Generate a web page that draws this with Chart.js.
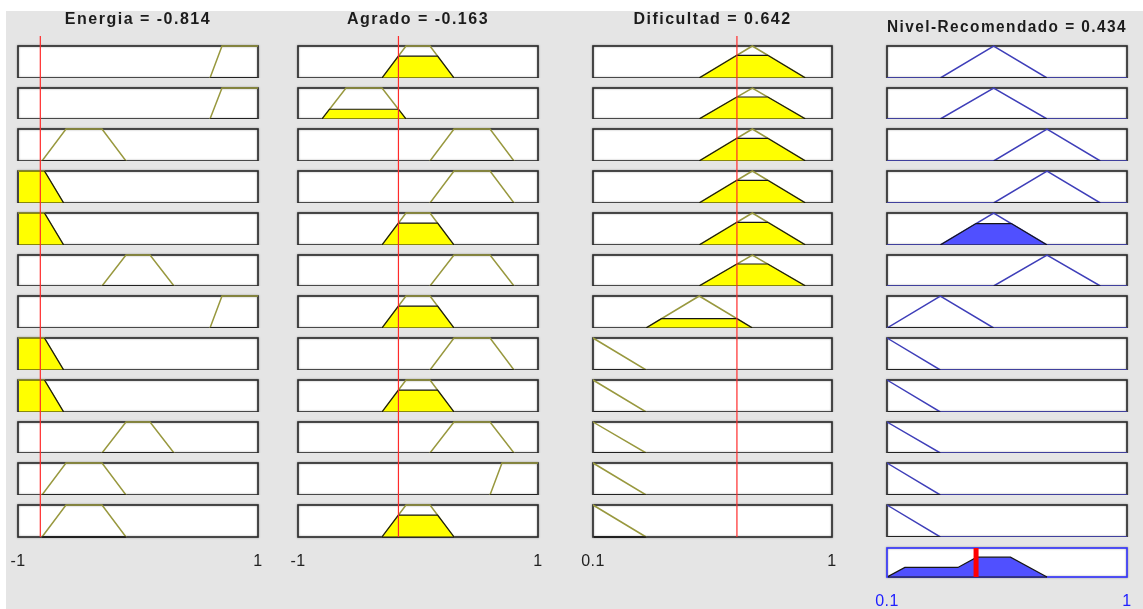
<!DOCTYPE html>
<html>
<head>
<meta charset="utf-8">
<script src="https://cdn.jsdelivr.net/npm/chart.js@4.4.0/dist/chart.umd.min.js"></script>
<style>
html,body{margin:0;padding:0;background:#fff;width:1143px;height:609px;overflow:hidden;position:relative;}
#panel{position:absolute;left:6px;top:11px;width:1137px;height:598px;background:#e5e5e5;}
canvas{position:absolute;}
</style>
</head>
<body>
<div id="panel"></div>
<script>
// ---------------- data ----------------
const inputNames = ['Energia', 'Agrado', 'Dificultad'];
const inputValues = [-0.814, -0.163, 0.642];
const inputRanges = [[-1, 1], [-1, 1], [0.1, 1]];
const inputTickLabels = [['-1', '1'], ['-1', '1'], ['0.1', '1']];

const outputName = 'Nivel-Recomendado';
const outputValue = 0.434;
const outputRange = [0.1, 1];
const outputTickLabels = ['0.1', '1'];

// membership functions [a, b, c, d] (trapezoid, triangle when b = c)
const energiaMFs = { baja: [-1.2, -1.1, -0.78, -0.62], mediaBaja: [-0.8, -0.6, -0.3, -0.1], media: [-0.3, -0.1, 0.1, 0.3], alta: [0.6, 0.7, 1, 1.1] };
const energiaRows = ['alta', 'alta', 'mediaBaja', 'baja', 'baja', 'media', 'alta', 'baja', 'baja', 'media', 'mediaBaja', 'mediaBaja'];
const energiaDegrees = [0, 0, 0, 1, 1, 0, 0, 1, 1, 0, 0, 0];

const agradoMFs = { bajo: [-0.8, -0.6, -0.3, -0.1], medio: [-0.3, -0.1, 0.1, 0.3], alto: [0.1, 0.3, 0.6, 0.8], muyAlto: [0.6, 0.7, 1, 1.1] };
const agradoRows = ['medio', 'bajo', 'alto', 'alto', 'medio', 'alto', 'medio', 'alto', 'medio', 'alto', 'muyAlto', 'medio'];
const agradoDegrees = [0.685, 0.315, 0, 0, 0.685, 0, 0.685, 0, 0.685, 0, 0, 0.685];

const dificultadMFs = { baja: [-0.1, 0.1, 0.1, 0.3], media: [0.3, 0.5, 0.5, 0.7], alta: [0.5, 0.7, 0.7, 0.9] };
const dificultadRows = ['alta', 'alta', 'alta', 'alta', 'alta', 'alta', 'media', 'baja', 'baja', 'baja', 'baja', 'baja'];
const dificultadDegrees = [0.71, 0.71, 0.71, 0.71, 0.71, 0.71, 0.29, 0, 0, 0, 0, 0];

const nivelMFs = { muyBajo: [-0.1, 0.1, 0.1, 0.3], bajo: [0.1, 0.3, 0.3, 0.5], medio: [0.3, 0.5, 0.5, 0.7], alto: [0.5, 0.7, 0.7, 0.9] };
const nivelRows = ['medio', 'medio', 'alto', 'alto', 'medio', 'alto', 'bajo', 'muyBajo', 'muyBajo', 'muyBajo', 'muyBajo', 'muyBajo'];
const nivelDegrees = [0, 0, 0, 0, 0.67, 0, 0, 0, 0, 0, 0, 0];

// aggregated output shape
const aggregateX = [0.1, 0.167, 0.366, 0.437, 0.563, 0.7];
const aggregateY = [0, 0.33, 0.33, 0.685, 0.685, 0];

// ---------------- layout / style ----------------
const colLeft = [18, 298, 593, 887];
const colWidth = [240, 240, 239, 240];
const rowTop = r => Math.round(46 + r * 41.73);
const rowBottom = r => Math.round(46 + r * 41.73 + 31.7);
const SIDE = 15;
const FONT = 'Liberation Sans, Arial, sans-serif';

const cellPlugin = {
  id: 'cell',
  beforeUpdate(chart, args, o) { chart.ctx.letterSpacing = o.spacing || '0px'; },
  beforeDraw(chart, args, o) { chart.ctx.letterSpacing = o.spacing || '0px'; },
  beforeDatasetsDraw(chart, args, o) {
    const { ctx, chartArea: a } = chart;
    ctx.save();
    ctx.fillStyle = '#ffffff';
    ctx.fillRect(a.left, a.top, a.right - a.left, a.bottom - a.top);
    ctx.shadowColor = 'rgba(0,0,0,0.45)';
    ctx.shadowBlur = 2;
    ctx.strokeStyle = o.boxColor;
    ctx.lineWidth = 1.6;
    ctx.strokeRect(a.left, a.top, a.right - a.left, a.bottom - a.top);
    ctx.restore();
  },
  afterDatasetsDraw(chart, args, o) {
    if (o.mark === null || o.mark === undefined) return;
    const { ctx, chartArea: a } = chart;
    const x = chart.scales.x.getPixelForValue(o.mark);
    const y0 = o.markFrom === 'above' ? a.top - 10 : (o.markFrom === 'canvas' ? 0 : a.top);
    ctx.save();
    ctx.strokeStyle = o.markColor;
    ctx.lineWidth = o.markWidth;
    ctx.beginPath();
    ctx.moveTo(x, y0);
    ctx.lineTo(x, a.bottom);
    ctx.stroke();
    ctx.restore();
  }
};

function mfPoints(p, range, extend) {
  const pts = [];
  if (extend) pts.push({ x: range[0], y: 0 });
  pts.push({ x: p[0], y: 0 }, { x: p[1], y: 1 }, { x: p[2], y: 1 }, { x: p[3], y: 0 });
  if (extend) pts.push({ x: range[1], y: 0 });
  return pts;
}
function clippedPoints(p, L) {
  return [
    { x: p[0], y: 0 },
    { x: p[0] + L * (p[1] - p[0]), y: L },
    { x: p[3] - L * (p[3] - p[2]), y: L },
    { x: p[3], y: 0 }
  ];
}

function addCanvas(left, top, w, h) {
  const c = document.createElement('canvas');
  c.width = w; c.height = h;
  c.style.left = left + 'px'; c.style.top = top + 'px';
  c.style.width = w + 'px'; c.style.height = h + 'px';
  document.body.appendChild(c);
  return c;
}

function makeCell(cfg) {
  const canvas = addCanvas(cfg.left - SIDE, cfg.top, cfg.width + 2 * SIDE, cfg.height);
  const datasets = [];
  if (cfg.linePts) {
    datasets.push({
      data: cfg.linePts, borderColor: cfg.lineColor, borderWidth: 1.5, fill: false,
      pointRadius: 0, tension: 0, order: 2,
      clip: { left: 0, right: 0, top: 2, bottom: 2 }
    });
  }
  if (cfg.fillPts) {
    const n = cfg.fillPts.length;
    datasets.push({
      data: cfg.fillPts, borderColor: '#151515', borderWidth: 1.2, backgroundColor: cfg.fillColor,
      fill: 'origin', pointRadius: 0, tension: 0, order: 1,
      clip: { left: -1, right: -1, top: 0, bottom: 1 }
    });
    datasets.push({
      data: [cfg.fillPts[0], cfg.fillPts[n - 1]], borderColor: '#151515', borderWidth: 1.2,
      fill: false, pointRadius: 0, tension: 0, order: 0,
      clip: { left: -1, right: -1, top: 0, bottom: 1 }
    });
  }
  const range = cfg.range;
  new Chart(canvas, {
    type: 'line',
    data: { datasets },
    options: {
      responsive: false, animation: false, devicePixelRatio: 1,
      events: [],
      layout: { padding: { left: SIDE, right: SIDE, top: cfg.padTop, bottom: 0 } },
      plugins: {
        legend: { display: false },
        tooltip: { enabled: false },
        filler: { propagate: false, drawTime: 'beforeDatasetDraw' },
        title: cfg.title ? {
          display: true, text: cfg.title, color: '#1c1c1c',
          font: { family: FONT, size: 16, weight: 'bold' },
          padding: { top: cfg.titleTop, bottom: cfg.titleBottom }
        } : { display: false },
        cell: {
          boxColor: cfg.boxColor, mark: cfg.mark, markFrom: cfg.markFrom,
          markColor: cfg.markColor, markWidth: cfg.markWidth, spacing: cfg.spacing
        }
      },
      scales: {
        x: {
          type: 'linear', min: range[0], max: range[1],
          display: !!cfg.ticks,
          grid: { display: false, drawTicks: false },
          border: { display: false },
          afterBuildTicks: s => { s.ticks = [{ value: range[0] }, { value: range[1] }]; },
          afterFit: s => {
            s.paddingLeft = 0; s.paddingRight = 0;
            if (cfg.ticks) s.height = cfg.axisHeight;
          },
          ticks: {
            autoSkip: false, maxRotation: 0, padding: 15,
            color: cfg.tickColor || '#222',
            font: { family: FONT, size: 16 },
            callback: (v, i) => cfg.ticks ? cfg.ticks[i] : ''
          }
        },
        y: { min: 0, max: 1, display: false }
      }
    },
    plugins: [cellPlugin]
  });
}

const inputMFs = [energiaMFs, agradoMFs, dificultadMFs];
const inputRows = [energiaRows, agradoRows, dificultadRows];
const inputDegrees = [energiaDegrees, agradoDegrees, dificultadDegrees];

// input columns
for (let c = 0; c < 3; c++) {
  for (let r = 0; r < 12; r++) {
    const p = inputMFs[c][inputRows[c][r]];
    const top = r === 0 ? 0 : rowBottom(r - 1);
    const last = r === 11;
    const axisHeight = 45;
    makeCell({
      left: colLeft[c], width: colWidth[c], top,
      height: rowBottom(r) - top + (last ? axisHeight : 0),
      padTop: r === 0 ? 0 : rowTop(r) - top,
      title: r === 0 ? `${inputNames[c]} = ${inputValues[c]}` : null,
      titleTop: 10, titleBottom: rowTop(0) - 10 - 19.2,
      spacing: r === 0 ? '1.5px' : (last ? '0.5px' : '0px'),
      range: inputRanges[c],
      linePts: mfPoints(p, inputRanges[c], false),
      lineColor: 'rgb(152,152,62)',
      fillPts: clippedPoints(p, inputDegrees[c][r]),
      fillColor: '#ffff00',
      boxColor: '#2a2a2a',
      mark: inputValues[c], markFrom: r === 0 ? 'above' : 'canvas',
      markColor: '#ff2a2a', markWidth: 1.2,
      ticks: last ? inputTickLabels[c] : null, axisHeight
    });
  }
}

// output column
for (let r = 0; r < 12; r++) {
  const p = nivelMFs[nivelRows[r]];
  const top = r === 0 ? 0 : rowBottom(r - 1);
  makeCell({
    left: colLeft[3], width: colWidth[3], top,
    height: rowBottom(r) - top,
    padTop: r === 0 ? 0 : rowTop(r) - top,
    title: r === 0 ? `${outputName} = ${outputValue}` : null,
    titleTop: 18, titleBottom: rowTop(0) - 18 - 19.2,
    spacing: r === 0 ? '1.5px' : '0px',
    range: outputRange,
    linePts: mfPoints(p, outputRange, true),
    lineColor: 'rgb(62,62,185)',
    fillPts: clippedPoints(p, nivelDegrees[r]),
    fillColor: 'rgb(80,80,255)',
    boxColor: '#2a2a2a',
    mark: null
  });
}

// aggregate output
{
  const top = rowBottom(11);
  const boxTop = 548, boxBottom = 577;
  const pts = aggregateX.map((x, i) => ({ x, y: aggregateY[i] }));
  makeCell({
    left: colLeft[3], width: colWidth[3], top,
    height: 609 - top,
    padTop: boxTop - top,
    spacing: '0.5px',
    range: outputRange,
    linePts: null,
    fillPts: pts,
    fillColor: 'rgb(80,80,255)',
    boxColor: 'rgb(50,50,255)',
    mark: outputValue, markFrom: 'box', markColor: '#ff0000', markWidth: 5,
    ticks: outputTickLabels, tickColor: '#2020ff', axisHeight: 609 - boxBottom
  });
}
</script>
</body>
</html>
